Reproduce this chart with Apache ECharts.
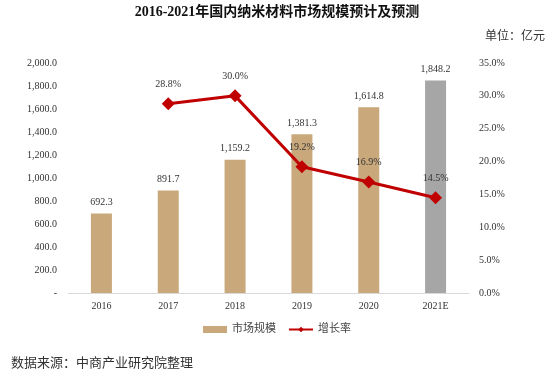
<!DOCTYPE html>
<html><head><meta charset="utf-8">
<script src="https://cdn.jsdelivr.net/npm/echarts@6/dist/echarts.min.js"></script>
<style>html,body{margin:0;padding:0;background:#fff}#c{width:554px;height:379px}</style>
</head><body><div id="c"></div>
<script>
const categories = ['2016','2017','2018','2019','2020','2021E'];
const marketSize = [692.3, 891.7, 1159.2, 1381.3, 1614.8, 1848.2];
const growthRate = [null, 28.8, 30.0, 19.2, 16.9, 14.5];
const leftTicks = [0,200,400,600,800,1000,1200,1400,1600,1800,2000];
const rightTicks = [0,5,10,15,20,25,30,35];

const serif = '"Liberation Serif","Times New Roman","Noto Sans CJK SC",serif';
const chart = echarts.init(document.getElementById('c'));
chart.setOption({
  animation:false,
  title:[
    {text:'2016-2021年国内纳米材料市场规模预计及预测',left:'center',top:0,
     textStyle:{fontFamily:serif,fontSize:14,fontWeight:'bold',color:'#111'}},
    {text:'单位：亿元',right:4,top:26,textStyle:{fontFamily:serif,fontSize:12,fontWeight:'normal',color:'#333'}},
    {text:'数据来源：中商产业研究院整理',left:6,top:352,textStyle:{fontFamily:serif,fontSize:13,fontWeight:'normal',color:'#333'}}
  ],
  legend:{
    top:319,left:'center',itemWidth:24,itemHeight:7,itemGap:12,
    textStyle:{fontFamily:serif,fontSize:11,color:'#444'},
    data:[{name:'市场规模',icon:'rect'},{name:'增长率'}]
  },
  grid:{left:68,right:85,top:63,bottom:86},
  xAxis:{type:'category',data:categories,
    axisLine:{lineStyle:{color:'#d9d9d9'}},axisTick:{show:false},
    axisLabel:{fontFamily:serif,fontSize:10,color:'#333',margin:8}},
  yAxis:[
    {type:'value',min:0,max:2000,interval:200,splitLine:{show:false},
     axisLine:{show:false},axisTick:{show:false},
     axisLabel:{fontFamily:serif,fontSize:10,color:'#333',margin:11,
       formatter:v=>v===0?'-':v.toLocaleString('en-US',{minimumFractionDigits:1,maximumFractionDigits:1})}},
    {type:'value',min:0,max:35,interval:5,splitLine:{show:false},
     axisLine:{show:false},axisTick:{show:false},
     axisLabel:{fontFamily:serif,fontSize:10,color:'#333',margin:10,formatter:v=>v.toFixed(1)+'%'}}
  ],
  series:[
    {name:'市场规模',type:'bar',barWidth:21,
     data:marketSize.map((v,i)=>({value:v,itemStyle:{color:i===5?'#A6A6A6':'#C9A87C'}})),
     itemStyle:{color:'#C9A87C'},
     label:{show:true,position:'top',distance:6,fontFamily:serif,fontSize:10,color:'#333',
       formatter:p=>p.value.toLocaleString('en-US',{minimumFractionDigits:1,maximumFractionDigits:1})}},
    {name:'增长率',type:'line',yAxisIndex:1,data:growthRate,symbol:'diamond',symbolSize:13,
     lineStyle:{color:'#C00000',width:3},itemStyle:{color:'#C00000'},
     label:{show:true,position:'top',distance:8,fontFamily:serif,fontSize:10,color:'#333',
       formatter:p=>p.value.toFixed(1)+'%'}}
  ]
});
</script></body></html>
